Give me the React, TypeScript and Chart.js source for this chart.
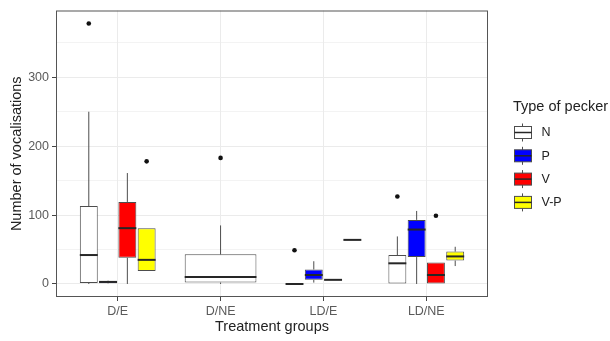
import React, { useEffect, useRef } from "react";
import { Chart, registerables } from "chart.js";
Chart.register(...registerables);

const categories = ["D/E", "D/NE", "LD/E", "LD/NE"];
const peckerTypes = ["N", "P", "V", "V-P"];
const typeColors = ["#FFFFFF", "#0000FF", "#FF0000", "#FFFF00"];

// [lower whisker, Q1, median, Q3, upper whisker] per treatment group (null = no data)
const statsN = [[0, 1.5, 42, 113, 250], [0, 2, 10, 43, 85], [0, 0, 0, 0, 0], [0, 0, 30, 42, 69]];
const statsP = [[0.5, 1, 3, 4.5, 5], null, [2, 6, 13, 21, 33], [0, 39, 79, 93, 106]];
const statsV = [[0, 38, 81, 119, 161], null, [6, 6, 6, 6, 6], [0, 0, 13, 31, 31]];
const statsVP = [[19, 19, 35, 81, 81], null, [64, 64, 64, 64, 64], [26, 34, 40, 47, 54]];
const outliersN = [[378], [183], [49], [127]];
const outliersP = [[], [], [], []];
const outliersV = [[], [], [], [99]];
const outliersVP = [[178], [], [], []];

const yMajorTicks = [0, 100, 200, 300];
const yMinorTicks = [50, 150, 250, 350];
const yMin = -18.9;
const yMax = 396.9;

const allStats = [statsN, statsP, statsV, statsVP];
const allOutliers = [outliersN, outliersP, outliersV, outliersVP];

const FONT = '"Liberation Sans", Arial, sans-serif';

const boxExtras = {
  id: "boxExtras",
  afterDatasetsDraw(chart: any) {
    const ctx = chart.ctx;
    const ys = chart.scales.y;
    chart.data.datasets.forEach((_ds: any, k: number) => {
      const meta = chart.getDatasetMeta(k);
      meta.data.forEach((el: any, i: number) => {
        const s = allStats[k][i];
        if (!s) return;
        const { x, width } = el.getProps(["x", "width"], true);
        ctx.save();
        ctx.strokeStyle = "#4d4d4d";
        ctx.lineWidth = 1;
        ctx.beginPath();
        ctx.moveTo(x, ys.getPixelForValue(s[3]));
        ctx.lineTo(x, ys.getPixelForValue(s[4]));
        ctx.moveTo(x, ys.getPixelForValue(s[1]));
        ctx.lineTo(x, ys.getPixelForValue(s[0]));
        ctx.stroke();
        ctx.strokeStyle = "#262626";
        ctx.lineWidth = 2;
        const my = ys.getPixelForValue(s[2]);
        ctx.beginPath();
        ctx.moveTo(x - width / 2, my);
        ctx.lineTo(x + width / 2, my);
        ctx.stroke();
        ctx.fillStyle = "#111";
        allOutliers[k][i].forEach((v: number) => {
          ctx.beginPath();
          ctx.arc(x, ys.getPixelForValue(v), 2.3, 0, Math.PI * 2);
          ctx.fill();
        });
        ctx.restore();
      });
    });
  },
  afterDraw(chart: any) {
    const ctx = chart.ctx;
    const { left, top, right, bottom } = chart.chartArea;
    ctx.save();
    ctx.strokeStyle = "#555";
    ctx.lineWidth = 1;
    ctx.strokeRect(left + 0.5, top + 0.5, right - left - 1, bottom - top - 1);

    // legend
    const lx = right + 26;
    ctx.fillStyle = "#222";
    ctx.textBaseline = "middle";
    ctx.textAlign = "left";
    ctx.font = `14.5px ${FONT}`;
    ctx.fillText("Type of pecker", lx - 1, top + 96);
    ctx.font = `12.5px ${FONT}`;
    chart.data.datasets.forEach((ds: any, k: number) => {
      const cy = top + 122 + k * 23.3;
      const bw = 17;
      const cx = lx + bw / 2;
      ctx.strokeStyle = "#4d4d4d";
      ctx.lineWidth = 1;
      ctx.beginPath();
      ctx.moveTo(cx, cy - 9);
      ctx.lineTo(cx, cy + 9);
      ctx.stroke();
      ctx.fillStyle = ds.backgroundColor;
      ctx.fillRect(lx + 0.5, cy - 6, bw, 12);
      ctx.strokeRect(lx + 0.5, cy - 6, bw, 12);
      ctx.strokeStyle = "#262626";
      ctx.lineWidth = 1.5;
      ctx.beginPath();
      ctx.moveTo(lx + 0.5, cy);
      ctx.lineTo(lx + 0.5 + bw, cy);
      ctx.stroke();
      ctx.fillStyle = "#222";
      ctx.fillText(ds.label, lx + 27.5, cy + 0.5);
    });
    ctx.restore();
  },
};

export default function App() {
  const ref = useRef<HTMLCanvasElement | null>(null);
  useEffect(() => {
    if (!ref.current) return;
    const datasets = peckerTypes.map((t, k) => ({
      label: t,
      data: categories.map((_c, i) => {
        const s = allStats[k][i];
        return { x: i + 1, y: s ? [s[1], s[3]] : null };
      }),
      backgroundColor: typeColors[k],
      borderColor: "#4d4d4d",
      borderWidth: 1,
      borderSkipped: false,
      categoryPercentage: 0.75,
      barPercentage: 0.93,
      skipNull: true,
    }));
    const chart = new Chart(ref.current, {
      type: "bar",
      data: { datasets: datasets as any },
      plugins: [boxExtras],
      options: {
        animation: false,
        responsive: false,
        devicePixelRatio: 1,
        layout: { padding: { left: 0, top: 7, right: 122, bottom: 0 }, autoPadding: false },
        plugins: { legend: { display: false }, tooltip: { enabled: false } },
        scales: {
          x: {
            type: "linear",
            min: 0.4,
            max: 4.6,
            offset: false,
            afterBuildTicks: (scale: any) => {
              scale.ticks = categories.map((_c, i) => ({ value: i + 1 }));
            },
            afterFit: (scale: any) => {
              scale.height = 44;
            },
            ticks: {
              autoSkip: false,
              maxRotation: 0,
              padding: 3,
              color: "#5a5a5a",
              font: { family: FONT, size: 12.5 },
              callback: (v: any) => categories[Math.round(Number(v)) - 1] ?? "",
            },
            grid: {
              offset: false,
              color: "#ebebeb",
              tickLength: 4,
              tickColor: "#444",
            },
            border: { display: false },
            title: {
              display: true,
              text: "Treatment groups",
              color: "#222",
              font: { family: FONT, size: 14.5 },
              padding: { top: 2, bottom: 5.5 },
            },
          },
          y: {
            type: "linear",
            min: yMin,
            max: yMax,
            afterBuildTicks: (scale: any) => {
              scale.ticks = [...yMajorTicks, ...yMinorTicks]
                .sort((a, b) => a - b)
                .map((v) => ({ value: v }));
            },
            afterFit: (scale: any) => {
              scale.width = 56;
            },
            ticks: {
              autoSkip: false,
              padding: 3,
              color: "#5a5a5a",
              font: { family: FONT, size: 12.5 },
              callback: (v: any) => (yMajorTicks.includes(Number(v)) ? String(v) : ""),
            },
            grid: {
              color: "#ebebeb",
              lineWidth: (c: any) => (c.tick && yMajorTicks.includes(c.tick.value) ? 1 : 0.6),
              tickLength: 4,
              tickColor: (c: any) =>
                c.tick && yMajorTicks.includes(c.tick.value) ? "#444" : "rgba(0,0,0,0)",
            },
            border: { display: false },
            title: {
              display: true,
              text: "Number of vocalisations",
              color: "#222",
              font: { family: FONT, size: 14.5 },
              padding: { top: 8, bottom: 2 },
            },
          },
        },
      } as any,
    });
    return () => chart.destroy();
  }, []);
  return (
    <div style={{ position: "fixed", left: 0, top: 0, width: 610, height: 341, background: "#fff" }}>
      <canvas ref={ref} width={610} height={341} style={{ display: "block", width: 610, height: 341 }} />
    </div>
  );
}
